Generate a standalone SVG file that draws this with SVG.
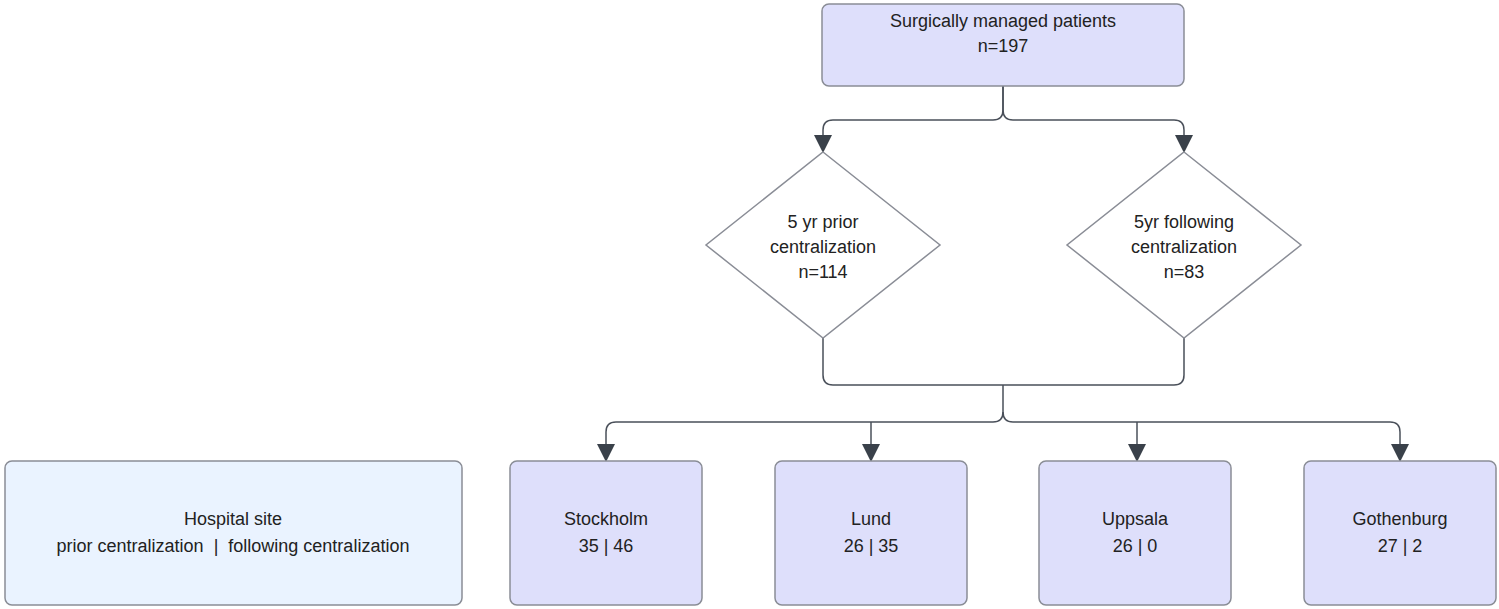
<svg xmlns="http://www.w3.org/2000/svg" width="1499" height="609" viewBox="0 0 1499 609">
<style>
.n{fill:#dedffb;stroke:#8a8d96;stroke-width:1.5}
.d{fill:#ffffff;stroke:#8a8d96;stroke-width:1.5}
.h{fill:#eaf3ff;stroke:#8a8d96;stroke-width:1.5}
text{font-family:"Liberation Sans",Arial,sans-serif;font-size:18px;fill:#222;text-anchor:middle}
.c{fill:none;stroke:#4a505a;stroke-width:1.5}
</style>
<defs><marker id="a" markerWidth="10" markerHeight="12" refX="5" refY="11" orient="auto" viewBox="0 0 10 12"><path d="M0,0 L10,0 L5,12z" fill="#3a414a" transform="rotate(0)"/></marker>
<marker id="ar" markerWidth="12" markerHeight="14" refX="10" refY="7" orient="auto" viewBox="0 0 12 14"><path d="M0,1 L12,7 L0,13z" fill="#3a414a"/></marker></defs>
<g id="connectors">
<path class="c" d="M1003,86 V110 Q1003,120 993,120 H833 Q823,120 823,130 V150" marker-end="url(#ar)"/>
<path class="c" d="M1003,86 V110 Q1003,120 1013,120 H1174 Q1184,120 1184,130 V150" marker-end="url(#ar)"/>
<path class="c" d="M823,338 V375 Q823,385 833,385 H1174 Q1184,385 1184,375 V338"/>
<path class="c" d="M1003,385 V412 Q1003,422 993,422 H616 Q606,422 606,432 V459" marker-end="url(#ar)"/>
<path class="c" d="M871,422 V459" marker-end="url(#ar)"/>
<path class="c" d="M1003,412 Q1003,422 1013,422 H1390 Q1400,422 1400,432 V459" marker-end="url(#ar)"/>
<path class="c" d="M1137,422 V459" marker-end="url(#ar)"/>
</g>
<g id="top"><rect class="n" x="822" y="4" width="362" height="82" rx="7"/><text x="1003" y="27">Surgically managed patients</text><text x="1003" y="52">n=197</text></g>
<g id="prior"><path class="d" d="M823,152 L940,245 L823,338 L706,245z"/><text x="823" y="228">5 yr prior</text><text x="823" y="253">centralization</text><text x="823" y="278">n=114</text></g>
<g id="following"><path class="d" d="M1184,152 L1301,245 L1184,338 L1067,245z"/><text x="1184" y="228">5yr following</text><text x="1184" y="253">centralization</text><text x="1184" y="278">n=83</text></g>
<g id="legend"><rect class="h" x="5" y="461" width="457" height="144" rx="7"/><text x="233" y="525">Hospital site</text><text x="233" y="552" xml:space="preserve">prior centralization  |  following centralization</text></g>
<g id="stockholm"><rect class="n" x="510" y="461" width="192" height="144" rx="7"/><text x="606" y="525">Stockholm</text><text x="606" y="552">35 | 46</text></g>
<g id="lund"><rect class="n" x="775" y="461" width="192" height="144" rx="7"/><text x="871" y="525">Lund</text><text x="871" y="552">26 | 35</text></g>
<g id="uppsala"><rect class="n" x="1039" y="461" width="192" height="144" rx="7"/><text x="1135" y="525">Uppsala</text><text x="1135" y="552">26 | 0</text></g>
<g id="gothenburg"><rect class="n" x="1304" y="461" width="192" height="144" rx="7"/><text x="1400" y="525">Gothenburg</text><text x="1400" y="552">27 | 2</text></g>
</svg>
